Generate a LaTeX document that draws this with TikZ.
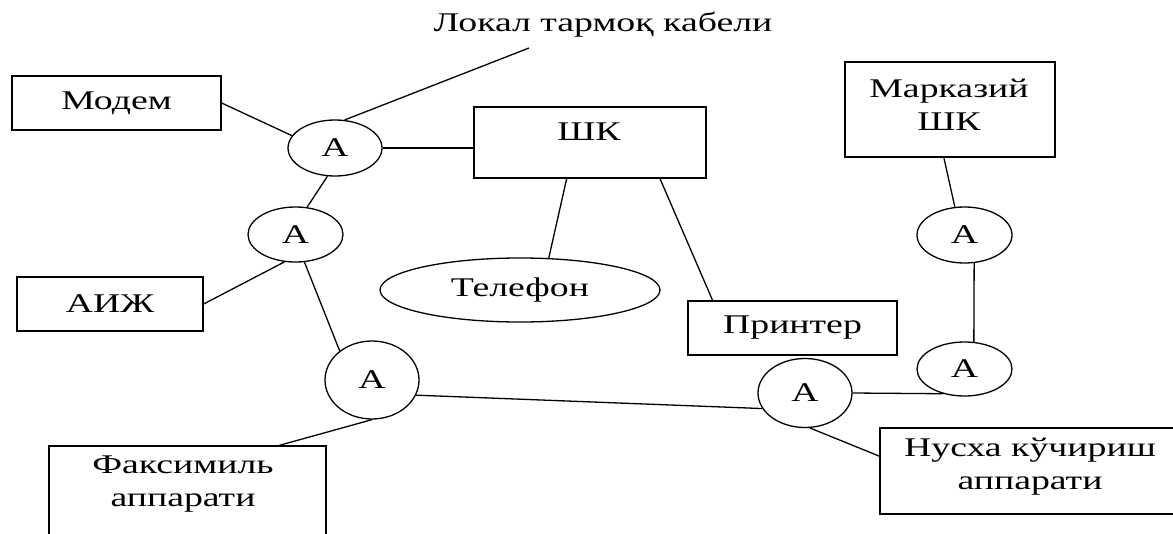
\documentclass[tikz,border=0pt]{standalone}
\usepackage{fontspec}
\setmainfont{Liberation Serif}[FakeStretch=1.4]
\usetikzlibrary{shapes.geometric,calc}
\tikzset{
  box/.style={draw, line width=1.3pt, rectangle, inner sep=0pt},
  aell/.style={draw, line width=1.3pt, ellipse, inner sep=0pt},
  txt/.style={inner sep=0pt, align=center},
  wire/.style={line width=1.3pt},
  every node/.style={font=\fontsize{27}{33}\selectfont},
}
\begin{document}
\begin{tikzpicture}[x=1pt,y=-1pt]
\clip (0,0) rectangle (1173,533);
\fill[white] (0,0) rectangle (1173,533);

% label
\node[txt] (cable) at (603,25) {Локал тармоқ кабели};
\coordinate (cableend) at (529,48);

% boxes
\node[box, minimum width=209pt, minimum height=54pt] (modem) at (116.5,103) {Модем};
\node[box, minimum width=186pt, minimum height=54pt] (aizh) at (110,304) {АИЖ};
\node[box, minimum width=232pt, minimum height=71pt] (shk) at (590,142.5) {};
\node[txt] (shkt) at (589,132) {ШК};
\node[box, minimum width=210pt, minimum height=95pt] (mshk) at (950,109.5) {};
\node[txt] (mshkt) at (949,105) {Марказий\\ШК};
\node[box, minimum width=209pt, minimum height=54pt] (printer) at (792.5,328) {Принтер};
\node[box, minimum width=277pt, minimum height=114pt] (fax) at (187.5,503) {};
\node[txt] (faxt) at (183,484) {Факсимиль\\аппарати};
\node[box, minimum width=320pt, minimum height=86pt] (nusxa) at (1040,471) {};
\node[txt] (nusxat) at (1030,467) {Нусха кўчириш\\аппарати};

% ellipses
\node[aell, minimum width=280pt, minimum height=64pt] (tel) at (520,290) {Телефон};
\node[aell, minimum width=94pt, minimum height=56pt] (a1) at (335,148) {А};
\node[aell, minimum width=95pt, minimum height=55pt] (a2) at (295.5,234.5) {А};
\node[aell, minimum width=94pt, minimum height=78pt] (a3) at (372,380) {А};
\node[aell, minimum width=94pt, minimum height=69pt] (a4) at (805,393) {А};
\node[aell, minimum width=95pt, minimum height=54pt] (a5) at (964.5,369) {А};
\node[aell, minimum width=95pt, minimum height=56pt] (a6) at (964.5,235) {А};

% connectors
\draw[wire] (cableend) -- (a1.71);
\draw[wire] (modem.east) -- (a1.164);
\draw[wire] (a1.east) -- (a1.east -| shk.west);
\draw[wire] (a1.255) -- (a2.67);
\draw[wire] (aizh.east) -- (a2.248);
\draw[wire] (a2.288) -- (a3.138);
\draw[wire] (a3.south) -- ($(fax.north west)!0.83!(fax.north east)$);
\draw[wire] (a3.-19) -- (a4.200);
\draw[wire] (a4.east) -- (a5.229);
\draw[wire] (a4.278) -- ($(nusxa.north west)!0.33!(nusxa.south west)$);
\draw[wire] (a6.-71) -- (a5.71);
\draw[wire] ($(mshk.south west)!0.471!(mshk.south east)$) -- (a6.109);
\draw[wire] ($(shk.south west)!0.40!(shk.south east)$) -- (tel.48);
\draw[wire] ($(shk.south west)!0.80!(shk.south east)$) -- ($(printer.north west)!0.12!(printer.north east)$);
\end{tikzpicture}
\end{document}
